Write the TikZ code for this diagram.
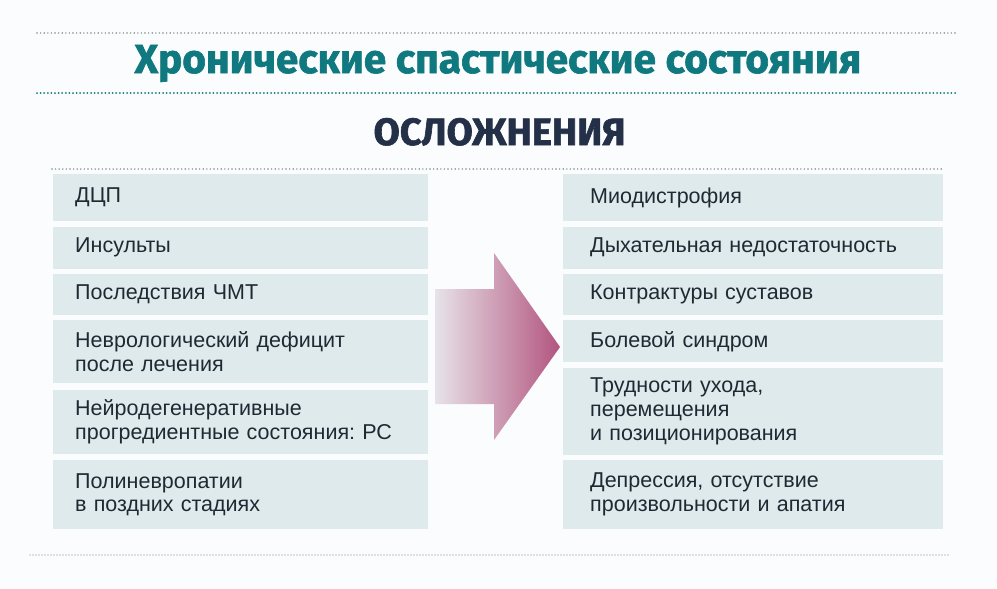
\documentclass[tikz,border=0pt]{standalone}
\usepackage{fontspec}
\setmainfont{Liberation Sans}
\newfontfamily\headfont{Fira Sans}[BoldFeatures={FakeBold=1.6}]
\usetikzlibrary{positioning}
\definecolor{bgcol}{HTML}{FAFCFD}
\definecolor{boxcol}{HTML}{DFEAEC}
\definecolor{teal}{HTML}{107980}
\definecolor{navy}{HTML}{243047}
\definecolor{ink}{HTML}{1E2933}
\definecolor{dotgray}{HTML}{80898F}
\definecolor{arrowlight}{HTML}{E7E3E9}
\definecolor{arrowdark}{HTML}{B3557F}
\begin{document}
\begin{tikzpicture}[x=1pt,y=-1pt,
		node distance=5pt,
		item/.style={fill=boxcol,text=ink,align=left,inner ysep=0pt,
			font=\fontsize{21.5}{23.8}\selectfont\frenchspacing},
		leftitem/.style={item,inner xsep=22pt,text width=331pt},
		rightitem/.style={item,inner xsep=27pt,text width=326pt},
		dotline/.style={dotgray,line width=1.6pt,line cap=round,dash pattern=on 0pt off 3.6pt}]
		
		\fill[bgcol] (0,0) rectangle (997,589);
		\useasboundingbox (0,0) rectangle (997,589);
		
		% headings
		\coordinate (top1) at (37,33);   \coordinate (top2) at (957,33);
		\coordinate (mid1) at (37,93);   \coordinate (mid2) at (957,93);
		\coordinate (sub1) at (52,169);  \coordinate (sub2) at (943,169);
		\coordinate (bot1) at (30,555);  \coordinate (bot2) at (950,555);
		\draw[dotline] (top1) -- (top2);
		\draw[dotline,teal,line width=2pt] (mid1) -- (mid2);
		\draw[dotline] (sub1) -- (sub2);
		\draw[dotline,line width=1.4pt,dash pattern=on 0pt off 3pt] (bot1) -- (bot2);
		\node[anchor=base,text=teal,font=\headfont\bfseries\fontsize{40.5}{44}\selectfont] (title) at (498,73) {Хронические спастические состояния};
		\node[anchor=base,text=navy,font=\headfont\bfseries\fontsize{38}{40}\selectfont] (compl) at (499.5,145) {ОСЛОЖНЕНИЯ};
		
		% causes
		\node[leftitem,anchor=north west,minimum height=47pt] (l1) at (53,174) {ДЦП};
		\node[leftitem,below=of l1,minimum height=42pt] (l2) {Инсульты};
		\node[leftitem,below=of l2,minimum height=41pt] (l3) {Последствия ЧМТ};
		\node[leftitem,below=of l3,minimum height=63pt] (l4) {Неврологический дефицит\\после лечения};
		\node[leftitem,below=6pt of l4,minimum height=64pt] (l5) {Нейродегенеративные\\прогредиентные состояния: РС};
		\node[leftitem,below=6pt of l5,minimum height=69pt] (l6) {Полиневропатии\\в поздних стадиях};
		
		% complications
		\node[rightitem,anchor=north west,minimum height=47pt] (r1) at (563,174) {Миодистрофия};
		\node[rightitem,below=of r1,minimum height=42pt] (r2) {Дыхательная недостаточность};
		\node[rightitem,below=of r2,minimum height=41pt] (r3) {Контрактуры суставов};
		\node[rightitem,below=of r3,minimum height=42pt] (r4) {Болевой синдром};
		\node[rightitem,below=of r4,minimum height=87pt] (r5) {Трудности ухода,\\перемещения\\и позиционирования};
		\node[rightitem,below=of r5,minimum height=69pt] (r6) {Депрессия, отсутствие\\произвольности и апатия};
		
		% arrow
		\shade[left color=arrowlight,right color=arrowdark]
			(435,289) -- (494,289) -- (494,253) -- (560,347) -- (494,440) -- (494,404) -- (435,404) -- cycle;
		\end{tikzpicture}
\end{document}
